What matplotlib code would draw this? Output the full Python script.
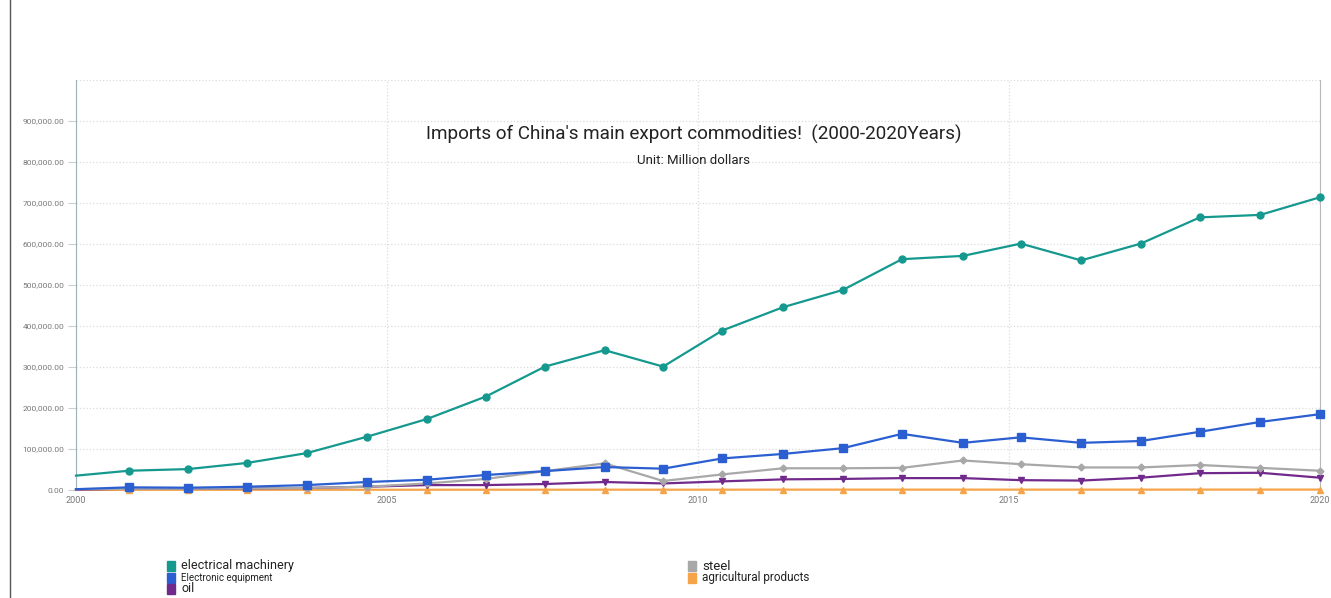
import matplotlib.pyplot as plt
import matplotlib.ticker as mticker
from matplotlib.lines import Line2D
from matplotlib.patches import Rectangle

plt.rcParams['font.family'] = ['Roboto', 'DejaVu Sans']

# point positions on the time axis
annees = [2000.0, 2000.85, 2001.80, 2002.75, 2003.71, 2004.68, 2005.64, 2006.59,
          2007.54, 2008.50, 2009.44, 2010.39, 2011.37, 2012.33, 2013.28, 2014.26,
          2015.19, 2016.16, 2017.12, 2018.07, 2019.04, 2020.0]

machines = [35000, 47000, 51000, 66000, 90000, 130000, 173000, 228000, 301000, 341000,
            301000, 389000, 446000, 488000, 563000, 571000, 601000, 560000, 601000,
            665000, 671000, 714000]
electronique = [2000, 6500, 5600, 8000, 12000, 19500, 25000, 36600, 46000, 56000,
                52000, 77000, 88000, 102000, 137000, 115000, 128500, 115000, 119500,
                142000, 166000, 185000]
acier = [2000, 3000, 3000, 4000, 5000, 8000, 16000, 27000, 46000, 65000, 22000,
         38000, 53000, 53000, 54000, 72000, 63000, 55000, 55000, 61000, 54000, 47000]
petrole = [1000, 3000, 3000, 4000, 5000, 8000, 12000, 12000, 14600, 19500, 16000,
           21000, 26000, 27000, 29000, 29000, 24000, 23000, 30000, 41000, 42000, 30000]
agricole = [300, 400, 400, 500, 500, 600, 600, 700, 700, 800, 700, 800, 900, 900,
            900, 900, 900, 900, 900, 1000, 1000, 1000]

series = [
    ("agricultural products", agricole, "#f5a44a", "^", 4.5),
    ("oil", petrole, "#72298c", "v", 4.5),
    ("steel", acier, "#a8a8a8", "D", 3.5),
    ("Electronic equipment", electronique, "#2b5fd1", "s", 5.5),
    ("electrical machinery", machines, "#15998f", "o", 5),
]

fig = plt.figure(figsize=(13.31, 5.98), dpi=100)
ax = fig.add_axes([0.0571, 0.1806, 0.9346, 0.6856])

for i, (nom, vals, coul, mk, ms) in enumerate(series):
    ax.plot(annees, vals, color=coul, lw=1.6, marker=mk, markersize=ms,
            markevery=list(range(1, len(annees))), zorder=3 + i, clip_on=False)

ax.set_xlim(2000, 2020)
ax.set_ylim(0, 1000000)
ax.set_xticks([2000, 2005, 2010, 2015, 2020])
ax.set_yticks(range(0, 1000000, 100000))
ax.yaxis.set_major_formatter(mticker.FuncFormatter(lambda v, p: f"{v:,.2f}"))
ax.tick_params(axis='y', labelsize=6, labelcolor='#777777', length=6,
               color='#c8d0d4', pad=2.5)
ax.tick_params(axis='x', labelsize=6.5, labelcolor='#777777', length=0, pad=4)

ax.grid(True, linestyle=':', color='#dcdcdc', lw=0.9)
ax.axhline(1000000, color='#dcdcdc', ls=':', lw=0.9)
for s in ['top', 'bottom']:
    ax.spines[s].set_visible(False)
ax.spines['left'].set_color('#9fb0b8')
ax.spines['right'].set_color('#b8b8b8')

fig.text(0.521, 0.775, "Imports of China's main export commodities!  (2000-2020Years)",
         ha='center', va='center', fontsize=13.6, color='#222222')
fig.text(0.521, 0.731, "Unit: Million dollars", ha='center', va='center',
         fontsize=9.5, color='#222222')

# left border line
fig.add_artist(Line2D([0.0075, 0.0075], [0.0, 1.0], color='#555555', lw=1.0))

# legend below the chart
gauche = [("electrical machinery", "#15998f", 9, 566),
          ("Electronic equipment", "#2b5fd1", 7, 578),
          ("oil", "#72298c", 9, 589)]
droite = [("steel", "#a8a8a8", 9.5, 566),
          ("agricultural products", "#f5a44a", 8.5, 578)]
for txt, coul, fs, ypx in gauche:
    y = 1 - ypx / 598
    fig.add_artist(Rectangle((167 / 1331, y - 5 / 598), 8 / 1331, 10 / 598,
                             color=coul, transform=fig.transFigure))
    fig.text(181 / 1331, y, txt, va='center', ha='left', fontsize=fs, color='#222222')
for txt, coul, fs, ypx in droite:
    y = 1 - ypx / 598
    fig.add_artist(Rectangle((688 / 1331, y - 5 / 598), 8 / 1331, 10 / 598,
                             color=coul, transform=fig.transFigure))
    fig.text(702 / 1331, y, txt, va='center', ha='left', fontsize=fs, color='#222222')

fig.savefig("out.png", dpi=100)
